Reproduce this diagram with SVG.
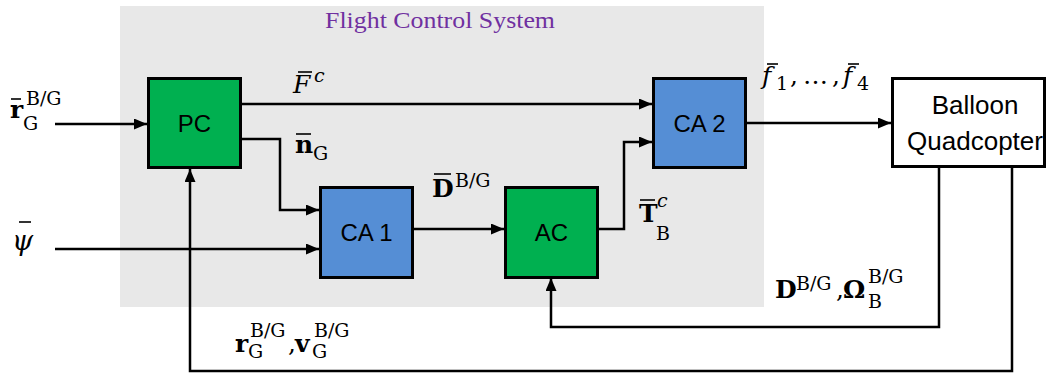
<svg xmlns="http://www.w3.org/2000/svg" width="1049" height="374" viewBox="0 0 1049 374">
<defs>
<marker id="ah" markerWidth="13" markerHeight="11" refX="13" refY="5.5" orient="auto" markerUnits="userSpaceOnUse">
<path d="M0,0 L13,5.5 L0,11 z" fill="#000"/>
</marker>
<style>
.box{stroke:#000;stroke-width:3}
.g{fill:#00B050}
.b{fill:#558ED5}
.w{fill:#fff}
.lbl{font-family:"Liberation Sans",Arial,sans-serif;font-size:24px;fill:#000;text-anchor:middle}
.c{fill:none;stroke:#000;stroke-width:2.5}
.m{font-family:"DejaVu Serif","Liberation Serif",serif;fill:#000;font-size:25px}
.mb{font-weight:bold}
.mi{font-style:italic}
.s{font-size:19px}
.bar{stroke:#000;stroke-width:1.6}
</style>
</defs>
<g id="fcs">
<rect x="120" y="6" width="644" height="301" fill="#E8E8E8"/>
<text x="440" y="28" font-family="Liberation Serif,serif" font-size="24" fill="#7030A0" text-anchor="middle" textLength="230" lengthAdjust="spacingAndGlyphs">Flight Control System</text>
</g>
<g id="connectors">
<path class="c" d="M55,124 H147" marker-end="url(#ah)"/>
<path class="c" d="M242,104 H652" marker-end="url(#ah)"/>
<path class="c" d="M242,139 H280 V210 H319" marker-end="url(#ah)"/>
<path class="c" d="M55,249 H319" marker-end="url(#ah)"/>
<path class="c" d="M413,229 H504" marker-end="url(#ah)"/>
<path class="c" d="M598,229 H624 V142 H652" marker-end="url(#ah)"/>
<path class="c" d="M747,123 H891" marker-end="url(#ah)"/>
<path class="c" d="M939,168 V327 H551 V278" marker-end="url(#ah)"/>
<path class="c" d="M1012,168 V371 H190 V169" marker-end="url(#ah)"/>
</g>
<g id="PC">
<rect class="box g" x="148.5" y="78.5" width="92" height="89"/>
<text class="lbl" x="194.5" y="132">PC</text>
</g>
<g id="CA1">
<rect class="box b" x="320.5" y="187.5" width="92" height="90"/>
<text class="lbl" x="366.5" y="241">CA 1</text>
</g>
<g id="AC">
<rect class="box g" x="505.5" y="187.5" width="92" height="90"/>
<text class="lbl" x="551.5" y="241">AC</text>
</g>
<g id="CA2">
<rect class="box b" x="653.5" y="78.5" width="92" height="89"/>
<text class="lbl" x="699.5" y="132">CA 2</text>
</g>
<g id="Balloon">
<rect class="box w" x="892.5" y="78.5" width="152" height="88"/>
<text class="lbl" x="975" y="114" style="font-size:26px">Balloon</text>
<text class="lbl" x="975" y="150" style="font-size:26px">Quadcopter</text>
</g>
<g id="labels">
<text class="m mb" x="10" y="118">r</text>
<line class="bar" x1="11" y1="99" x2="21" y2="99"/>
<text class="m s" x="26" y="105">B/G</text>
<text class="m s" x="23" y="130">G</text>

<text class="m mi" x="293" y="93">F</text>
<line class="bar" x1="298" y1="72" x2="312" y2="72"/>
<text class="m mi" x="314" y="82" style="font-size:19px">c</text>

<text class="m mb" x="295" y="153">n</text>
<line class="bar" x1="296" y1="134" x2="311" y2="134"/>
<text class="m s" x="313" y="160">G</text>

<text class="m mb" x="432" y="197">D</text>
<line class="bar" x1="434" y1="174" x2="451" y2="174"/>
<text class="m s" x="455" y="187">B/G</text>

<text class="m mb" x="639" y="222">T</text>
<line class="bar" x1="640" y1="200" x2="655" y2="200"/>
<text class="m mi" x="657" y="207" style="font-size:19px">c</text>
<text class="m s" x="656" y="240">B</text>

<text class="m mi" x="762" y="84">f</text>
<line class="bar" x1="767" y1="64" x2="778" y2="64"/>
<text class="m s" x="776" y="90">1</text>
<text class="m" x="790" y="84">,</text>
<text class="m" x="803" y="84">…</text>
<text class="m" x="832" y="84">,</text>
<text class="m mi" x="843" y="84">f</text>
<line class="bar" x1="848" y1="64" x2="859" y2="64"/>
<text class="m s" x="857" y="90">4</text>

<text class="m mb" x="775" y="298">D</text>
<text class="m s" x="796" y="290">B/G</text>
<text class="m" x="836" y="298">,</text>
<text class="m mb" x="843" y="298">Ω</text>
<text class="m s" x="868" y="283">B/G</text>
<text class="m s" x="868" y="308">B</text>

<text class="m mb" x="235" y="352">r</text>
<text class="m s" x="250" y="337">B/G</text>
<text class="m s" x="248" y="358">G</text>
<text class="m" x="288" y="352">,</text>
<text class="m mb" x="295" y="352">v</text>
<text class="m s" x="314" y="337">B/G</text>
<text class="m s" x="312" y="358">G</text>

<text class="m mi" x="12" y="250" style="font-size:27px">ψ</text>
<line class="bar" x1="19" y1="222" x2="31" y2="222"/>
</g>
</svg>
